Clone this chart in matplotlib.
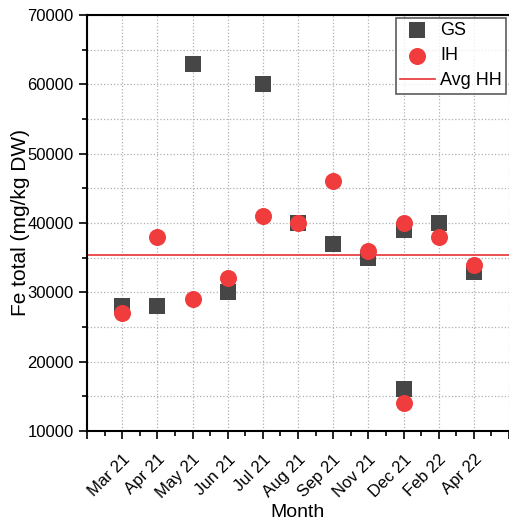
import matplotlib.pyplot as plt
from matplotlib.ticker import MultipleLocator

plt.rcParams['font.family'] = ['Liberation Sans', 'DejaVu Sans']

months = ['Mar 21', 'Apr 21', 'May 21', 'Jun 21', 'Jul 21', 'Aug 21',
          'Sep 21', 'Nov 21', 'Dec 21', 'Feb 22', 'Apr 22']
# month index for each sample (Dec 21 has two samples)
sample_month = [1, 2, 3, 4, 5, 6, 7, 8, 9, 9, 10, 11]
gs = [28000, 28000, 63000, 30000, 60000, 40000, 37000, 35000, 39000, 16000, 40000, 33000]
ih = [27000, 38000, 29000, 32000, 41000, 40000, 46000, 36000, 40000, 14000, 38000, 34000]
avg_hh = 35400

fig = plt.figure(figsize=(5.09, 5.27), dpi=100)
ax = fig.add_axes([87/509, 96/527, 1 - 87/509, 416/527])

ax.scatter(sample_month, gs, marker='s', s=120, color='#464646', label='GS', zorder=3, linewidths=0)
ax.scatter(sample_month, ih, marker='o', s=150, color='#f03c3c', label='IH', zorder=4, linewidths=0)
ax.axhline(avg_hh, color='#e83030', lw=1.2, label='Avg HH', zorder=2)

ax.set_xlim(0, 12)
ax.set_ylim(10000, 70000)
ax.set_xticks(range(0, 13))
ax.set_xticklabels([''] + months + [''], rotation=45, ha='right', rotation_mode='anchor')
ax.xaxis.set_minor_locator(MultipleLocator(0.5))
ax.yaxis.set_major_locator(MultipleLocator(10000))
ax.yaxis.set_minor_locator(MultipleLocator(5000))
ax.tick_params(axis='both', which='major', direction='out', length=6, width=1.2, labelsize=12)
ax.tick_params(axis='both', which='minor', direction='out', length=3.5, width=1.2)
ax.tick_params(axis='x', labelsize=12, pad=9)

ax.grid(True, which='major', ls=':', color='#b0b0b0', lw=0.9)
ax.grid(True, which='minor', axis='y', ls=':', color='#b0b0b0', lw=0.9)
ax.set_axisbelow(True)

for sp in ax.spines.values():
    sp.set_linewidth(1.5)
ax.spines['right'].set_visible(False)

ax.set_xlabel('Month', fontsize=14, labelpad=2)
ax.set_ylabel('Fe total (mg/kg DW)', fontsize=15)
ax.yaxis.set_label_coords(-0.135, 0.5)

leg = ax.legend(loc='upper right', fontsize=13, frameon=True, fancybox=False,
                edgecolor='#333333', handlelength=1.9, borderaxespad=0.15,
                labelspacing=0.45, handletextpad=0.3, borderpad=0.25)
leg.get_frame().set_linewidth(1.2)

fig.savefig('out.png', dpi=100)
